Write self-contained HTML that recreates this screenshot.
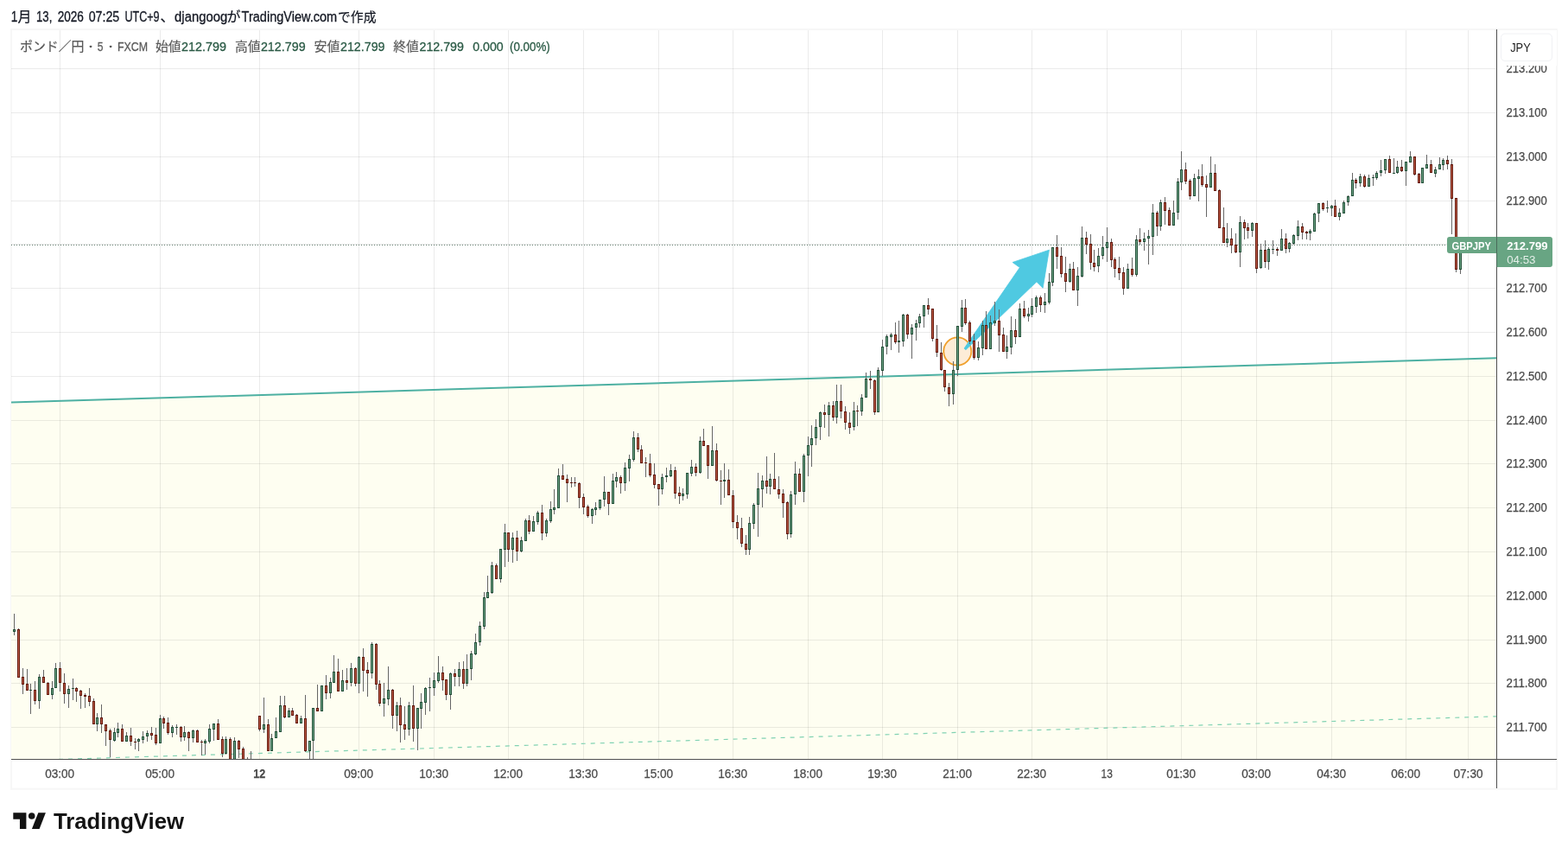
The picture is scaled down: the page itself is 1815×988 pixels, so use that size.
<!DOCTYPE html>
<html><head><meta charset="utf-8"><title>GBPJPY</title>
<style>html,body{margin:0;padding:0;background:#fff;overflow:hidden}svg{display:block;font-family:"Liberation Sans","Noto Sans CJK JP",sans-serif;will-change:transform}</style></head><body>
<svg width="1815" height="988" viewBox="0 0 1815 988">
<g>
<rect x="13" y="34" width="1789" height="878.7" fill="none" stroke="#f7f7f7" stroke-width="2.2"/>
<defs><clipPath id="pane"><rect x="13" y="35" width="1719" height="843"/></clipPath></defs>
<g clip-path="url(#pane)">
<polygon points="13,465.6 1732,414.3 1732,878 13,878" fill="#fefef1"/>
<path d="M69.5,35V878M185.5,35V878M300.5,35V878M415.5,35V878M502.5,35V878M588.5,35V878M675.5,35V878M762.5,35V878M848.5,35V878M935.5,35V878M1021.5,35V878M1108.5,35V878M1194.5,35V878M1281.5,35V878M1367.5,35V878M1454.5,35V878M1541.5,35V878M1627.5,35V878M1699.5,35V878M13,79.5H1732M13,130.5H1732M13,181.5H1732M13,232.5H1732M13,282.5H1732M13,333.5H1732M13,384.5H1732M13,435.5H1732M13,486.5H1732M13,536.5H1732M13,587.5H1732M13,638.5H1732M13,689.5H1732M13,740.5H1732M13,790.5H1732M13,841.5H1732" stroke="#000" stroke-opacity="0.08" stroke-width="1" fill="none"/>
<line x1="13" y1="880.1" x2="1732" y2="828.8" stroke="#80d2b2" stroke-width="1.2" stroke-dasharray="5 6"/>
<line x1="13" y1="465.6" x2="1732" y2="414.3" stroke="#4db0a2" stroke-width="2"/>
<line x1="13" y1="283.5" x2="1732" y2="283.5" stroke="#5f7a6b" stroke-width="1" stroke-dasharray="1 2"/>
<circle cx="1108.3" cy="406.45" r="16.05" fill="#fbd9b0" fill-opacity="0.5" stroke="#f0a12e" stroke-width="1.9"/>
<polygon points="1116.09,403.12 1180.37,309.5 1172.08,303.51 1214.4,289.2 1207.14,333.28 1199.88,326.07 1117.91,404.68" fill="#4fc9e1" stroke="#4fc9e1" stroke-width="0.8" stroke-linejoin="round"/>
<path d="M16.5,710V728M16.5,731V735M21.5,727V728M26.5,773V783M26.5,792V803M31.5,774V791M35.5,791V798M35.5,799V826M40.5,788V798M40.5,811V815M45.5,780V783M45.5,811V820M50.5,775V783M55.5,789V790M60.5,788V796M60.5,804V809M64.5,767V773M69.5,766V773M69.5,790V800M74.5,779V790M74.5,803V814M79.5,793V797M79.5,803V819M84.5,785V796M84.5,797V810M88.5,795V796M88.5,800V812M93.5,798V799M93.5,805V820M98.5,802V804M98.5,806V819M103.5,796V805M103.5,812V817M108.5,808V811M112.5,825V830M112.5,838V846M117.5,815V830M117.5,838V848M122.5,846V863M127.5,843V845M127.5,856V876M132.5,842V847M132.5,857V858M136.5,836V843M136.5,848V853M141.5,838V843M146.5,847V851M151.5,842V851M151.5,858V863M156.5,854V858M156.5,859V867M160.5,854V855M160.5,858V869M165.5,846V852M165.5,856V860M170.5,845V848M170.5,852V858M175.5,841V848M175.5,851V856M180.5,842V850M180.5,860V862M185.5,827V831M189.5,829V831M189.5,837V843M194.5,830V836M194.5,848V850M199.5,839V841M199.5,848V853M204.5,838V841M204.5,842V850M209.5,840V841M209.5,853V858M213.5,840V847M213.5,853V857M218.5,846V847M218.5,854V869M223.5,844V845M223.5,854V859M228.5,844V845M233.5,856V858M233.5,859V874M237.5,855V857M237.5,860V873M242.5,838V843M242.5,858V860M247.5,844V857M252.5,832V837M257.5,852V855M257.5,872V876M261.5,852V855M261.5,872V873M266.5,853V855M266.5,882V883M271.5,853V857M271.5,882V883M276.5,856V857M276.5,867V877M281.5,864V866M281.5,883V885M286.5,876V882M286.5,886V887M290.5,869V882M290.5,886V887M295.5,880V882M295.5,886V887M300.5,844V846M305.5,807V838M305.5,844V848M310.5,832V838M314.5,849V854M319.5,830V846M324.5,805V816M329.5,805V816M329.5,830V831M334.5,819V822M338.5,819V822M343.5,826V827M348.5,828V831M353.5,804V831M353.5,869V870M358.5,869V882M362.5,857V882M367.5,792V819M377.5,781V793M377.5,802V809M382.5,784V789M382.5,802V808M386.5,758V777M391.5,762V777M396.5,775V787M401.5,773V787M401.5,790V798M406.5,767V773M406.5,790V794M411.5,772V773M411.5,791V794M415.5,759V760M415.5,791V802M420.5,750V760M420.5,776V800M425.5,766V775M425.5,779V806M430.5,743V745M430.5,779V785M435.5,744V745M435.5,792V798M439.5,787V791M439.5,814V817M444.5,790V808M444.5,814V829M449.5,771V798M449.5,809V816M454.5,797V798M454.5,828V843M459.5,812V816M459.5,828V846M463.5,807V816M463.5,839V859M468.5,817V838M468.5,844V856M473.5,812V816M473.5,844V851M478.5,793V816M478.5,843V858M483.5,843V868M487.5,802V812M487.5,820V843M492.5,795V796M492.5,813V827M497.5,784V795M497.5,796V823M502.5,778V787M502.5,796V805M507.5,759V778M507.5,788V790M512.5,771V778M512.5,787V799M516.5,804V810M521.5,778V779M521.5,804V821M526.5,774V779M526.5,783V794M531.5,766V774M531.5,783V794M536.5,765V774M536.5,791V797M540.5,757V774M540.5,791V794M545.5,753V756M545.5,774V787M550.5,733V743M550.5,757V758M555.5,719V724M555.5,743V747M560.5,685V691M560.5,725V728M564.5,666V685M569.5,650V654M569.5,686V687M574.5,652V654M579.5,670V674M584.5,606V616M584.5,636V656M588.5,636V650M593.5,616V622M593.5,636V651M598.5,614V622M598.5,638V649M603.5,621V625M603.5,638V639M608.5,600V602M612.5,596V602M612.5,615V618M617.5,597V603M622.5,591V593M622.5,604V607M627.5,584V593M627.5,617V625M632.5,600V602M632.5,617V621M637.5,580V589M637.5,603V605M641.5,566V587M641.5,590V595M646.5,542V550M651.5,537V550M656.5,549V554M656.5,559V581M661.5,552V558M661.5,559V564M665.5,552V558M665.5,559V563M670.5,558V559M670.5,576V588M675.5,571V575M675.5,587V595M680.5,584V586M680.5,597V599M685.5,588V589M685.5,597V606M689.5,581V587M689.5,590V596M694.5,588V590M699.5,551V569M699.5,578V586M704.5,583V596M709.5,548V556M713.5,546V552M713.5,557V564M718.5,550V552M718.5,559V571M723.5,535V541M723.5,559V568M728.5,526V531M728.5,542V557M733.5,499V506M733.5,532V534M738.5,501V506M738.5,520V523M742.5,515V520M747.5,529V535M747.5,536V552M752.5,525V536M752.5,550V552M757.5,536V549M757.5,561V565M762.5,566V585M766.5,548V552M766.5,566V572M771.5,541V550M771.5,552V558M776.5,537V544M776.5,551V552M781.5,540V544M781.5,571V577M786.5,563V570M786.5,574V583M790.5,565V571M790.5,574V579M795.5,572V577M800.5,532V540M800.5,548V551M805.5,536V540M805.5,547V551M810.5,505V510M810.5,547V548M814.5,496V510M819.5,539V554M824.5,493V521M829.5,513V521M829.5,556V557M834.5,544V556M834.5,557V584M838.5,536V555M838.5,557V576M843.5,543V555M848.5,567V573M848.5,604V611M853.5,596V604M853.5,611V624M858.5,599V611M858.5,629V633M863.5,619V629M863.5,636V642M867.5,598V605M867.5,636V642M872.5,582V584M872.5,606V612M877.5,547V565M877.5,584V621M882.5,550V556M882.5,566V587M887.5,528V556M887.5,563V571M891.5,548V554M891.5,563V572M896.5,524V554M901.5,551V566M901.5,572V577M906.5,566V571M906.5,582V599M911.5,580V581M911.5,618V624M915.5,568V572M915.5,618V622M920.5,534V548M920.5,572V584M925.5,542V548M930.5,525V527M930.5,569V581M935.5,505V515M935.5,527V551M939.5,492V507M939.5,515V540M944.5,485V494M944.5,507V515M949.5,476V477M949.5,494V509M954.5,468V477M954.5,480V495M959.5,465V469M959.5,480V505M964.5,464V469M964.5,483V487M968.5,445V464M968.5,483V490M973.5,445V464M973.5,476V484M978.5,470V476M978.5,489V497M983.5,477V489M983.5,495V502M988.5,465V475M988.5,494V498M992.5,469V475M992.5,476V493M997.5,456V460M997.5,476V481M1002.5,431V438M1007.5,429V438M1007.5,440V450M1012.5,439V440M1012.5,477V480M1016.5,425V428M1021.5,393V401M1021.5,429V435M1026.5,387V389M1026.5,401V410M1031.5,385V387M1031.5,390V405M1036.5,373V387M1036.5,396V398M1040.5,371V394M1040.5,396V408M1045.5,363V364M1045.5,395V401M1050.5,363V364M1050.5,387V392M1055.5,375V379M1055.5,387V415M1060.5,370V374M1060.5,379V394M1064.5,363V366M1064.5,374V379M1069.5,366V379M1074.5,345V353M1074.5,358V364M1079.5,392V395M1084.5,376V392M1084.5,408V413M1089.5,396V408M1089.5,428V429M1093.5,448V453M1098.5,443V448M1098.5,456V470M1103.5,418V428M1103.5,456V468M1108.5,428V435M1113.5,347V356M1113.5,378V384M1117.5,346V356M1117.5,374V376M1122.5,371V373M1122.5,395V398M1127.5,386V394M1127.5,414V416M1132.5,395V402M1132.5,414V417M1137.5,371V376M1137.5,403V411M1141.5,360V376M1146.5,365V373M1151.5,349V371M1151.5,374V377M1156.5,358V371M1156.5,388V407M1161.5,379V387M1165.5,388V401M1165.5,407V415M1170.5,366V382M1170.5,402V410M1175.5,369V382M1175.5,390V398M1180.5,351V357M1185.5,348V357M1185.5,366V368M1190.5,356V363M1190.5,366V372M1194.5,345V354M1194.5,364V367M1199.5,342V344M1199.5,355V362M1204.5,342V344M1204.5,353V361M1209.5,339V349M1209.5,353V362M1214.5,316V326M1214.5,350V352M1218.5,327V331M1223.5,272V286M1223.5,297V311M1228.5,286V296M1228.5,317V321M1233.5,297V316M1233.5,326V338M1238.5,305V311M1238.5,326V327M1242.5,303V311M1247.5,309V319M1247.5,336V354M1252.5,262V275M1252.5,320V321M1257.5,268V275M1257.5,283V294M1262.5,271V282M1262.5,304V312M1266.5,289V304M1266.5,309V314M1271.5,287V296M1271.5,308V315M1276.5,273V286M1276.5,296V300M1281.5,263V280M1281.5,287V303M1286.5,276V280M1286.5,301V309M1290.5,298V300M1290.5,311V321M1295.5,297V310M1295.5,316V324M1300.5,309V315M1300.5,334V341M1305.5,305V311M1310.5,298V311M1310.5,318V320M1315.5,272V277M1315.5,318V320M1319.5,264V277M1319.5,280V283M1324.5,269V276M1324.5,280V290M1329.5,266V273M1329.5,276V306M1334.5,236V246M1334.5,274V295M1339.5,244V246M1339.5,262V273M1343.5,231V234M1343.5,262V267M1348.5,228V234M1348.5,244V260M1353.5,240V243M1358.5,232V246M1363.5,206V210M1363.5,246V254M1367.5,175V196M1367.5,211V220M1372.5,188V196M1372.5,210V213M1377.5,207V209M1377.5,227V231M1382.5,201V206M1387.5,196V204M1387.5,207V233M1391.5,190V204M1391.5,214V216M1396.5,203V213M1396.5,217V251M1401.5,181V200M1406.5,190V200M1411.5,219V220M1416.5,240V263M1420.5,258V276M1420.5,281V286M1425.5,264V276M1425.5,284V293M1430.5,270V283M1430.5,292V293M1435.5,250V257M1435.5,292V309M1440.5,254V257M1440.5,264V277M1444.5,258V263M1444.5,267V276M1449.5,257V258M1449.5,267V274M1454.5,311V316M1459.5,282V289M1459.5,310V311M1464.5,278V289M1464.5,303V310M1468.5,286V288M1468.5,303V312M1473.5,278V288M1473.5,289V294M1478.5,286V288M1478.5,290V296M1483.5,265V276M1488.5,270V276M1488.5,288V293M1492.5,280V281M1492.5,288V292M1497.5,271V272M1497.5,282V283M1502.5,255V262M1502.5,273V278M1507.5,258V262M1507.5,269V277M1512.5,267V268M1512.5,270V277M1516.5,265V267M1516.5,270V278M1521.5,246V247M1526.5,247V257M1531.5,234V235M1531.5,242V244M1536.5,232V240M1536.5,241V246M1541.5,237V238M1541.5,241V250M1545.5,231V238M1550.5,241V246M1550.5,251V255M1555.5,232V234M1560.5,226V227M1560.5,234V238M1565.5,200V208M1569.5,206V208M1569.5,212V218M1574.5,201V204M1574.5,212V216M1579.5,202V204M1579.5,216V217M1584.5,202V206M1589.5,202V205M1589.5,206V215M1593.5,198V200M1593.5,206V208M1598.5,185V197M1598.5,200V204M1603.5,197V201M1608.5,180V184M1613.5,183V200M1617.5,186V193M1617.5,200V201M1622.5,185V193M1622.5,198V199M1627.5,198V215M1632.5,175V181M1637.5,202V203M1642.5,200V201M1651.5,179V190M1656.5,185V190M1661.5,193V196M1661.5,201V205M1666.5,182V190M1670.5,183V185M1670.5,191V197M1675.5,180V185M1675.5,190V196M1680.5,184V190M1680.5,230V271M1685.5,312V315M1690.5,312V317" stroke="#666666" stroke-width="1" fill="none"/>
<path d="M15,728h3V731h-3zM34,798h3V799h-3zM44,783h3V811h-3zM59,796h3V804h-3zM63,773h3V796h-3zM78,797h3V803h-3zM83,796h3V797h-3zM111,830h3V838h-3zM131,847h3V857h-3zM135,843h3V848h-3zM145,851h3V858h-3zM159,855h3V858h-3zM164,852h3V856h-3zM169,848h3V852h-3zM184,831h3V860h-3zM198,841h3V848h-3zM203,841h3V842h-3zM212,847h3V853h-3zM222,845h3V854h-3zM236,857h3V860h-3zM241,843h3V858h-3zM246,837h3V844h-3zM260,855h3V872h-3zM270,857h3V882h-3zM289,882h3V886h-3zM304,838h3V844h-3zM313,854h3V869h-3zM318,846h3V854h-3zM323,816h3V847h-3zM333,822h3V830h-3zM347,831h3V837h-3zM357,857h3V869h-3zM361,819h3V857h-3zM371,793h3V823h-3zM381,789h3V802h-3zM385,777h3V790h-3zM395,787h3V800h-3zM405,773h3V790h-3zM414,760h3V791h-3zM429,745h3V779h-3zM443,808h3V814h-3zM448,798h3V809h-3zM458,816h3V828h-3zM472,816h3V844h-3zM482,819h3V843h-3zM486,812h3V820h-3zM491,796h3V813h-3zM496,795h3V796h-3zM501,787h3V796h-3zM506,778h3V788h-3zM520,779h3V804h-3zM530,774h3V783h-3zM539,774h3V791h-3zM544,756h3V774h-3zM549,743h3V757h-3zM554,724h3V743h-3zM559,691h3V725h-3zM563,685h3V692h-3zM568,654h3V686h-3zM578,635h3V670h-3zM583,616h3V636h-3zM592,622h3V636h-3zM602,625h3V638h-3zM607,602h3V626h-3zM616,603h3V615h-3zM621,593h3V604h-3zM631,602h3V617h-3zM636,589h3V603h-3zM640,587h3V590h-3zM645,550h3V588h-3zM684,589h3V597h-3zM688,587h3V590h-3zM693,578h3V588h-3zM698,569h3V578h-3zM708,556h3V583h-3zM712,552h3V557h-3zM722,541h3V559h-3zM727,531h3V542h-3zM732,506h3V532h-3zM765,552h3V566h-3zM770,550h3V552h-3zM775,544h3V551h-3zM789,571h3V574h-3zM794,547h3V572h-3zM799,540h3V548h-3zM809,510h3V547h-3zM823,521h3V539h-3zM837,555h3V557h-3zM866,605h3V636h-3zM871,584h3V606h-3zM876,565h3V584h-3zM881,556h3V566h-3zM890,554h3V563h-3zM914,572h3V618h-3zM919,548h3V572h-3zM929,527h3V569h-3zM934,515h3V527h-3zM938,507h3V515h-3zM943,494h3V507h-3zM948,477h3V494h-3zM958,469h3V480h-3zM967,464h3V483h-3zM987,475h3V494h-3zM996,460h3V476h-3zM1001,438h3V460h-3zM1015,428h3V477h-3zM1020,401h3V429h-3zM1025,389h3V401h-3zM1030,387h3V390h-3zM1039,394h3V396h-3zM1044,364h3V395h-3zM1054,379h3V387h-3zM1059,374h3V379h-3zM1063,366h3V374h-3zM1068,353h3V366h-3zM1102,428h3V456h-3zM1107,377h3V428h-3zM1112,356h3V378h-3zM1131,402h3V414h-3zM1136,376h3V403h-3zM1145,373h3V404h-3zM1150,371h3V374h-3zM1164,401h3V407h-3zM1169,382h3V402h-3zM1179,357h3V390h-3zM1189,363h3V366h-3zM1193,354h3V364h-3zM1198,344h3V355h-3zM1208,349h3V353h-3zM1213,326h3V350h-3zM1217,286h3V327h-3zM1237,311h3V326h-3zM1246,319h3V336h-3zM1251,275h3V320h-3zM1270,296h3V308h-3zM1275,286h3V296h-3zM1280,280h3V287h-3zM1304,311h3V334h-3zM1314,277h3V318h-3zM1323,276h3V280h-3zM1328,273h3V276h-3zM1333,246h3V274h-3zM1342,234h3V262h-3zM1357,246h3V261h-3zM1362,210h3V246h-3zM1366,196h3V211h-3zM1381,206h3V227h-3zM1386,204h3V207h-3zM1400,200h3V217h-3zM1419,276h3V281h-3zM1434,257h3V292h-3zM1448,258h3V267h-3zM1458,289h3V310h-3zM1467,288h3V303h-3zM1472,288h3V289h-3zM1482,276h3V290h-3zM1491,281h3V288h-3zM1496,272h3V282h-3zM1501,262h3V273h-3zM1515,267h3V270h-3zM1520,247h3V268h-3zM1525,235h3V247h-3zM1535,240h3V241h-3zM1540,238h3V241h-3zM1549,246h3V251h-3zM1554,234h3V247h-3zM1559,227h3V234h-3zM1564,208h3V227h-3zM1573,204h3V212h-3zM1583,206h3V216h-3zM1588,205h3V206h-3zM1592,200h3V206h-3zM1597,197h3V200h-3zM1602,184h3V197h-3zM1612,200h3V201h-3zM1616,193h3V200h-3zM1626,187h3V198h-3zM1631,181h3V188h-3zM1645,194h3V212h-3zM1650,190h3V195h-3zM1660,196h3V201h-3zM1665,190h3V196h-3zM1669,185h3V191h-3zM1689,284h3V312h-3z" fill="#24503a"/>
<path d="M16,729h1V730h-1zM45,784h1V810h-1zM60,797h1V803h-1zM64,774h1V795h-1zM79,798h1V802h-1zM112,831h1V837h-1zM132,848h1V856h-1zM136,844h1V847h-1zM146,852h1V857h-1zM160,856h1V857h-1zM165,853h1V855h-1zM170,849h1V851h-1zM185,832h1V859h-1zM199,842h1V847h-1zM213,848h1V852h-1zM223,846h1V853h-1zM237,858h1V859h-1zM242,844h1V857h-1zM247,838h1V843h-1zM261,856h1V871h-1zM271,858h1V881h-1zM290,883h1V885h-1zM305,839h1V843h-1zM314,855h1V868h-1zM319,847h1V853h-1zM324,817h1V846h-1zM334,823h1V829h-1zM348,832h1V836h-1zM358,858h1V868h-1zM362,820h1V856h-1zM372,794h1V822h-1zM382,790h1V801h-1zM386,778h1V789h-1zM396,788h1V799h-1zM406,774h1V789h-1zM415,761h1V790h-1zM430,746h1V778h-1zM444,809h1V813h-1zM449,799h1V808h-1zM459,817h1V827h-1zM473,817h1V843h-1zM483,820h1V842h-1zM487,813h1V819h-1zM492,797h1V812h-1zM502,788h1V795h-1zM507,779h1V787h-1zM521,780h1V803h-1zM531,775h1V782h-1zM540,775h1V790h-1zM545,757h1V773h-1zM550,744h1V756h-1zM555,725h1V742h-1zM560,692h1V724h-1zM564,686h1V691h-1zM569,655h1V685h-1zM579,636h1V669h-1zM584,617h1V635h-1zM593,623h1V635h-1zM603,626h1V637h-1zM608,603h1V625h-1zM617,604h1V614h-1zM622,594h1V603h-1zM632,603h1V616h-1zM637,590h1V602h-1zM641,588h1V589h-1zM646,551h1V587h-1zM685,590h1V596h-1zM689,588h1V589h-1zM694,579h1V587h-1zM699,570h1V577h-1zM709,557h1V582h-1zM713,553h1V556h-1zM723,542h1V558h-1zM728,532h1V541h-1zM733,507h1V531h-1zM766,553h1V565h-1zM776,545h1V550h-1zM790,572h1V573h-1zM795,548h1V571h-1zM800,541h1V547h-1zM810,511h1V546h-1zM824,522h1V538h-1zM867,606h1V635h-1zM872,585h1V605h-1zM877,566h1V583h-1zM882,557h1V565h-1zM891,555h1V562h-1zM915,573h1V617h-1zM920,549h1V571h-1zM930,528h1V568h-1zM935,516h1V526h-1zM939,508h1V514h-1zM944,495h1V506h-1zM949,478h1V493h-1zM959,470h1V479h-1zM968,465h1V482h-1zM988,476h1V493h-1zM997,461h1V475h-1zM1002,439h1V459h-1zM1016,429h1V476h-1zM1021,402h1V428h-1zM1026,390h1V400h-1zM1031,388h1V389h-1zM1045,365h1V394h-1zM1055,380h1V386h-1zM1060,375h1V378h-1zM1064,367h1V373h-1zM1069,354h1V365h-1zM1103,429h1V455h-1zM1108,378h1V427h-1zM1113,357h1V377h-1zM1132,403h1V413h-1zM1137,377h1V402h-1zM1146,374h1V403h-1zM1151,372h1V373h-1zM1165,402h1V406h-1zM1170,383h1V401h-1zM1180,358h1V389h-1zM1190,364h1V365h-1zM1194,355h1V363h-1zM1199,345h1V354h-1zM1209,350h1V352h-1zM1214,327h1V349h-1zM1218,287h1V326h-1zM1238,312h1V325h-1zM1247,320h1V335h-1zM1252,276h1V319h-1zM1271,297h1V307h-1zM1276,287h1V295h-1zM1281,281h1V286h-1zM1305,312h1V333h-1zM1315,278h1V317h-1zM1324,277h1V279h-1zM1329,274h1V275h-1zM1334,247h1V273h-1zM1343,235h1V261h-1zM1358,247h1V260h-1zM1363,211h1V245h-1zM1367,197h1V210h-1zM1382,207h1V226h-1zM1387,205h1V206h-1zM1401,201h1V216h-1zM1420,277h1V280h-1zM1435,258h1V291h-1zM1449,259h1V266h-1zM1459,290h1V309h-1zM1468,289h1V302h-1zM1483,277h1V289h-1zM1492,282h1V287h-1zM1497,273h1V281h-1zM1502,263h1V272h-1zM1516,268h1V269h-1zM1521,248h1V267h-1zM1526,236h1V246h-1zM1541,239h1V240h-1zM1550,247h1V250h-1zM1555,235h1V246h-1zM1560,228h1V233h-1zM1565,209h1V226h-1zM1574,205h1V211h-1zM1584,207h1V215h-1zM1593,201h1V205h-1zM1598,198h1V199h-1zM1603,185h1V196h-1zM1617,194h1V199h-1zM1627,188h1V197h-1zM1632,182h1V187h-1zM1646,195h1V211h-1zM1651,191h1V194h-1zM1661,197h1V200h-1zM1666,191h1V195h-1zM1670,186h1V190h-1zM1690,285h1V311h-1z" fill="#6ea586"/>
<path d="M20,728h3V784h-3zM25,783h3V792h-3zM30,791h3V799h-3zM39,798h3V811h-3zM49,783h3V790h-3zM54,790h3V804h-3zM68,773h3V790h-3zM73,790h3V803h-3zM87,796h3V800h-3zM92,799h3V805h-3zM97,804h3V806h-3zM102,805h3V812h-3zM107,811h3V838h-3zM116,830h3V838h-3zM121,838h3V846h-3zM126,845h3V856h-3zM140,843h3V858h-3zM150,851h3V858h-3zM155,858h3V859h-3zM174,848h3V851h-3zM179,850h3V860h-3zM188,831h3V837h-3zM193,836h3V848h-3zM208,841h3V853h-3zM217,847h3V854h-3zM227,845h3V859h-3zM232,858h3V859h-3zM251,837h3V856h-3zM256,855h3V872h-3zM265,855h3V882h-3zM275,857h3V867h-3zM280,866h3V883h-3zM285,882h3V886h-3zM294,882h3V886h-3zM299,828h3V844h-3zM309,838h3V869h-3zM328,816h3V830h-3zM337,822h3V828h-3zM342,827h3V837h-3zM352,831h3V869h-3zM366,819h3V823h-3zM376,793h3V802h-3zM390,777h3V800h-3zM400,787h3V790h-3zM410,773h3V791h-3zM419,760h3V776h-3zM424,775h3V779h-3zM434,745h3V792h-3zM438,791h3V814h-3zM453,798h3V828h-3zM462,816h3V839h-3zM467,838h3V844h-3zM477,816h3V843h-3zM511,778h3V787h-3zM515,786h3V804h-3zM525,779h3V783h-3zM535,774h3V791h-3zM573,654h3V670h-3zM587,616h3V636h-3zM597,622h3V638h-3zM611,602h3V615h-3zM626,593h3V617h-3zM650,550h3V555h-3zM655,554h3V559h-3zM660,558h3V559h-3zM664,558h3V559h-3zM669,559h3V576h-3zM674,575h3V587h-3zM679,586h3V597h-3zM703,569h3V583h-3zM717,552h3V559h-3zM737,506h3V520h-3zM741,520h3V536h-3zM746,535h3V536h-3zM751,536h3V550h-3zM756,549h3V561h-3zM761,560h3V566h-3zM780,544h3V571h-3zM785,570h3V574h-3zM804,540h3V547h-3zM813,510h3V516h-3zM818,515h3V539h-3zM828,521h3V556h-3zM833,556h3V557h-3zM842,555h3V573h-3zM847,573h3V604h-3zM852,604h3V611h-3zM857,611h3V629h-3zM862,629h3V636h-3zM886,556h3V563h-3zM895,554h3V566h-3zM900,566h3V572h-3zM905,571h3V582h-3zM910,581h3V618h-3zM924,548h3V569h-3zM953,477h3V480h-3zM963,469h3V483h-3zM972,464h3V476h-3zM977,476h3V489h-3zM982,489h3V495h-3zM991,475h3V476h-3zM1006,438h3V440h-3zM1011,440h3V477h-3zM1035,387h3V396h-3zM1049,364h3V387h-3zM1073,353h3V358h-3zM1078,357h3V392h-3zM1083,392h3V408h-3zM1088,408h3V428h-3zM1092,428h3V448h-3zM1097,448h3V456h-3zM1116,356h3V374h-3zM1121,373h3V395h-3zM1126,394h3V414h-3zM1140,376h3V404h-3zM1155,371h3V388h-3zM1160,387h3V407h-3zM1174,382h3V390h-3zM1184,357h3V366h-3zM1203,344h3V353h-3zM1222,286h3V297h-3zM1227,296h3V317h-3zM1232,316h3V326h-3zM1241,311h3V336h-3zM1256,275h3V283h-3zM1261,282h3V304h-3zM1265,304h3V309h-3zM1285,280h3V301h-3zM1289,300h3V311h-3zM1294,310h3V316h-3zM1299,315h3V334h-3zM1309,311h3V318h-3zM1318,277h3V280h-3zM1338,246h3V262h-3zM1347,234h3V244h-3zM1352,243h3V261h-3zM1371,196h3V210h-3zM1376,209h3V227h-3zM1390,204h3V214h-3zM1395,213h3V217h-3zM1405,200h3V221h-3zM1410,220h3V264h-3zM1415,263h3V281h-3zM1424,276h3V284h-3zM1429,283h3V292h-3zM1439,257h3V264h-3zM1443,263h3V267h-3zM1453,258h3V311h-3zM1463,289h3V303h-3zM1477,288h3V290h-3zM1487,276h3V288h-3zM1506,262h3V269h-3zM1511,268h3V270h-3zM1530,235h3V242h-3zM1544,238h3V251h-3zM1568,208h3V212h-3zM1578,204h3V216h-3zM1607,184h3V200h-3zM1621,193h3V198h-3zM1636,181h3V202h-3zM1641,201h3V212h-3zM1655,190h3V200h-3zM1674,185h3V190h-3zM1679,190h3V230h-3zM1684,229h3V312h-3z" fill="#621a0d"/>
<path d="M21,729h1V783h-1zM26,784h1V791h-1zM31,792h1V798h-1zM40,799h1V810h-1zM50,784h1V789h-1zM55,791h1V803h-1zM69,774h1V789h-1zM74,791h1V802h-1zM88,797h1V799h-1zM93,800h1V804h-1zM103,806h1V811h-1zM108,812h1V837h-1zM117,831h1V837h-1zM122,839h1V845h-1zM127,846h1V855h-1zM141,844h1V857h-1zM151,852h1V857h-1zM175,849h1V850h-1zM180,851h1V859h-1zM189,832h1V836h-1zM194,837h1V847h-1zM209,842h1V852h-1zM218,848h1V853h-1zM228,846h1V858h-1zM252,838h1V855h-1zM257,856h1V871h-1zM266,856h1V881h-1zM276,858h1V866h-1zM281,867h1V882h-1zM286,883h1V885h-1zM295,883h1V885h-1zM300,829h1V843h-1zM310,839h1V868h-1zM329,817h1V829h-1zM338,823h1V827h-1zM343,828h1V836h-1zM353,832h1V868h-1zM367,820h1V822h-1zM377,794h1V801h-1zM391,778h1V799h-1zM401,788h1V789h-1zM411,774h1V790h-1zM420,761h1V775h-1zM425,776h1V778h-1zM435,746h1V791h-1zM439,792h1V813h-1zM454,799h1V827h-1zM463,817h1V838h-1zM468,839h1V843h-1zM478,817h1V842h-1zM512,779h1V786h-1zM516,787h1V803h-1zM526,780h1V782h-1zM536,775h1V790h-1zM574,655h1V669h-1zM588,617h1V635h-1zM598,623h1V637h-1zM612,603h1V614h-1zM627,594h1V616h-1zM651,551h1V554h-1zM656,555h1V558h-1zM670,560h1V575h-1zM675,576h1V586h-1zM680,587h1V596h-1zM704,570h1V582h-1zM718,553h1V558h-1zM738,507h1V519h-1zM742,521h1V535h-1zM752,537h1V549h-1zM757,550h1V560h-1zM762,561h1V565h-1zM781,545h1V570h-1zM786,571h1V573h-1zM805,541h1V546h-1zM814,511h1V515h-1zM819,516h1V538h-1zM829,522h1V555h-1zM843,556h1V572h-1zM848,574h1V603h-1zM853,605h1V610h-1zM858,612h1V628h-1zM863,630h1V635h-1zM887,557h1V562h-1zM896,555h1V565h-1zM901,567h1V571h-1zM906,572h1V581h-1zM911,582h1V617h-1zM925,549h1V568h-1zM954,478h1V479h-1zM964,470h1V482h-1zM973,465h1V475h-1zM978,477h1V488h-1zM983,490h1V494h-1zM1012,441h1V476h-1zM1036,388h1V395h-1zM1050,365h1V386h-1zM1074,354h1V357h-1zM1079,358h1V391h-1zM1084,393h1V407h-1zM1089,409h1V427h-1zM1093,429h1V447h-1zM1098,449h1V455h-1zM1117,357h1V373h-1zM1122,374h1V394h-1zM1127,395h1V413h-1zM1141,377h1V403h-1zM1156,372h1V387h-1zM1161,388h1V406h-1zM1175,383h1V389h-1zM1185,358h1V365h-1zM1204,345h1V352h-1zM1223,287h1V296h-1zM1228,297h1V316h-1zM1233,317h1V325h-1zM1242,312h1V335h-1zM1257,276h1V282h-1zM1262,283h1V303h-1zM1266,305h1V308h-1zM1286,281h1V300h-1zM1290,301h1V310h-1zM1295,311h1V315h-1zM1300,316h1V333h-1zM1310,312h1V317h-1zM1319,278h1V279h-1zM1339,247h1V261h-1zM1348,235h1V243h-1zM1353,244h1V260h-1zM1372,197h1V209h-1zM1377,210h1V226h-1zM1391,205h1V213h-1zM1396,214h1V216h-1zM1406,201h1V220h-1zM1411,221h1V263h-1zM1416,264h1V280h-1zM1425,277h1V283h-1zM1430,284h1V291h-1zM1440,258h1V263h-1zM1444,264h1V266h-1zM1454,259h1V310h-1zM1464,290h1V302h-1zM1488,277h1V287h-1zM1507,263h1V268h-1zM1531,236h1V241h-1zM1545,239h1V250h-1zM1569,209h1V211h-1zM1579,205h1V215h-1zM1608,185h1V199h-1zM1622,194h1V197h-1zM1637,182h1V201h-1zM1642,202h1V211h-1zM1656,191h1V199h-1zM1675,186h1V189h-1zM1680,191h1V229h-1zM1685,230h1V311h-1z" fill="#c05c4a"/>
</g>
<path d="M1732.5,34V912M13,878.5H1802" stroke="#4f4f4f" stroke-width="1" fill="none"/>
<text x="1743.6" y="845.8" font-size="14" fill="#4a4a4a" stroke="#4a4a4a" stroke-width="0.25" textLength="47.2" lengthAdjust="spacingAndGlyphs">211.700</text>
<text x="1743.6" y="794.8" font-size="14" fill="#4a4a4a" stroke="#4a4a4a" stroke-width="0.25" textLength="47.2" lengthAdjust="spacingAndGlyphs">211.800</text>
<text x="1743.6" y="744.8" font-size="14" fill="#4a4a4a" stroke="#4a4a4a" stroke-width="0.25" textLength="47.2" lengthAdjust="spacingAndGlyphs">211.900</text>
<text x="1743.6" y="693.8" font-size="14" fill="#4a4a4a" stroke="#4a4a4a" stroke-width="0.25" textLength="47.2" lengthAdjust="spacingAndGlyphs">212.000</text>
<text x="1743.6" y="642.8" font-size="14" fill="#4a4a4a" stroke="#4a4a4a" stroke-width="0.25" textLength="47.2" lengthAdjust="spacingAndGlyphs">212.100</text>
<text x="1743.6" y="591.8" font-size="14" fill="#4a4a4a" stroke="#4a4a4a" stroke-width="0.25" textLength="47.2" lengthAdjust="spacingAndGlyphs">212.200</text>
<text x="1743.6" y="540.8" font-size="14" fill="#4a4a4a" stroke="#4a4a4a" stroke-width="0.25" textLength="47.2" lengthAdjust="spacingAndGlyphs">212.300</text>
<text x="1743.6" y="490.8" font-size="14" fill="#4a4a4a" stroke="#4a4a4a" stroke-width="0.25" textLength="47.2" lengthAdjust="spacingAndGlyphs">212.400</text>
<text x="1743.6" y="439.8" font-size="14" fill="#4a4a4a" stroke="#4a4a4a" stroke-width="0.25" textLength="47.2" lengthAdjust="spacingAndGlyphs">212.500</text>
<text x="1743.6" y="388.8" font-size="14" fill="#4a4a4a" stroke="#4a4a4a" stroke-width="0.25" textLength="47.2" lengthAdjust="spacingAndGlyphs">212.600</text>
<text x="1743.6" y="337.8" font-size="14" fill="#4a4a4a" stroke="#4a4a4a" stroke-width="0.25" textLength="47.2" lengthAdjust="spacingAndGlyphs">212.700</text>
<text x="1743.6" y="236.8" font-size="14" fill="#4a4a4a" stroke="#4a4a4a" stroke-width="0.25" textLength="47.2" lengthAdjust="spacingAndGlyphs">212.900</text>
<text x="1743.6" y="185.8" font-size="14" fill="#4a4a4a" stroke="#4a4a4a" stroke-width="0.25" textLength="47.2" lengthAdjust="spacingAndGlyphs">213.000</text>
<text x="1743.6" y="134.8" font-size="14" fill="#4a4a4a" stroke="#4a4a4a" stroke-width="0.25" textLength="47.2" lengthAdjust="spacingAndGlyphs">213.100</text>
<text x="1743.6" y="83.8" font-size="14" fill="#4a4a4a" stroke="#4a4a4a" stroke-width="0.25" textLength="47.2" lengthAdjust="spacingAndGlyphs">213.200</text>
<text x="52.2" y="899.9" font-size="14.2" fill="#4a4a4a" stroke="#4a4a4a" stroke-width="0.25" textLength="34.0" lengthAdjust="spacingAndGlyphs">03:00</text>
<text x="168.2" y="899.9" font-size="14.2" fill="#4a4a4a" stroke="#4a4a4a" stroke-width="0.25" textLength="34.0" lengthAdjust="spacingAndGlyphs">05:00</text>
<text x="293.2" y="899.9" font-size="14.2" fill="#4a4a4a" stroke="#4a4a4a" stroke-width="0.25" textLength="14.0" lengthAdjust="spacingAndGlyphs" font-weight="bold">12</text>
<text x="398.2" y="899.9" font-size="14.2" fill="#4a4a4a" stroke="#4a4a4a" stroke-width="0.25" textLength="34.0" lengthAdjust="spacingAndGlyphs">09:00</text>
<text x="485.2" y="899.9" font-size="14.2" fill="#4a4a4a" stroke="#4a4a4a" stroke-width="0.25" textLength="34.0" lengthAdjust="spacingAndGlyphs">10:30</text>
<text x="571.2" y="899.9" font-size="14.2" fill="#4a4a4a" stroke="#4a4a4a" stroke-width="0.25" textLength="34.0" lengthAdjust="spacingAndGlyphs">12:00</text>
<text x="658.2" y="899.9" font-size="14.2" fill="#4a4a4a" stroke="#4a4a4a" stroke-width="0.25" textLength="34.0" lengthAdjust="spacingAndGlyphs">13:30</text>
<text x="745.2" y="899.9" font-size="14.2" fill="#4a4a4a" stroke="#4a4a4a" stroke-width="0.25" textLength="34.0" lengthAdjust="spacingAndGlyphs">15:00</text>
<text x="831.2" y="899.9" font-size="14.2" fill="#4a4a4a" stroke="#4a4a4a" stroke-width="0.25" textLength="34.0" lengthAdjust="spacingAndGlyphs">16:30</text>
<text x="918.2" y="899.9" font-size="14.2" fill="#4a4a4a" stroke="#4a4a4a" stroke-width="0.25" textLength="34.0" lengthAdjust="spacingAndGlyphs">18:00</text>
<text x="1004.2" y="899.9" font-size="14.2" fill="#4a4a4a" stroke="#4a4a4a" stroke-width="0.25" textLength="34.0" lengthAdjust="spacingAndGlyphs">19:30</text>
<text x="1091.2" y="899.9" font-size="14.2" fill="#4a4a4a" stroke="#4a4a4a" stroke-width="0.25" textLength="34.0" lengthAdjust="spacingAndGlyphs">21:00</text>
<text x="1177.2" y="899.9" font-size="14.2" fill="#4a4a4a" stroke="#4a4a4a" stroke-width="0.25" textLength="34.0" lengthAdjust="spacingAndGlyphs">22:30</text>
<text x="1274.55" y="899.9" font-size="14.2" fill="#4a4a4a" stroke="#4a4a4a" stroke-width="0.25" textLength="13.3" lengthAdjust="spacingAndGlyphs">13</text>
<text x="1350.2" y="899.9" font-size="14.2" fill="#4a4a4a" stroke="#4a4a4a" stroke-width="0.25" textLength="34.0" lengthAdjust="spacingAndGlyphs">01:30</text>
<text x="1437.2" y="899.9" font-size="14.2" fill="#4a4a4a" stroke="#4a4a4a" stroke-width="0.25" textLength="34.0" lengthAdjust="spacingAndGlyphs">03:00</text>
<text x="1524.2" y="899.9" font-size="14.2" fill="#4a4a4a" stroke="#4a4a4a" stroke-width="0.25" textLength="34.0" lengthAdjust="spacingAndGlyphs">04:30</text>
<text x="1610.2" y="899.9" font-size="14.2" fill="#4a4a4a" stroke="#4a4a4a" stroke-width="0.25" textLength="34.0" lengthAdjust="spacingAndGlyphs">06:00</text>
<text x="1682.5" y="899.9" font-size="14.2" fill="#4a4a4a" stroke="#4a4a4a" stroke-width="0.25" textLength="34" lengthAdjust="spacingAndGlyphs">07:30</text>
<rect x="1733" y="35" width="69" height="41.2" fill="#fff"/>
<rect x="1737.5" y="39" width="59" height="31.5" rx="4.5" fill="#fff" stroke="#f0f1f4" stroke-width="1"/>
<text x="1748.2" y="59.9" font-size="14.8" fill="#1c1c1c" textLength="23.6" lengthAdjust="spacingAndGlyphs">JPY</text>
<path d="M1678,274h54v19h-54a3,3 0 0 1 -3,-3v-13a3,3 0 0 1 3,-3z" fill="#68a583"/>
<path d="M1733,274h61a3,3 0 0 1 3,3v29a3,3 0 0 1 -3,3h-61z" fill="#68a583"/>
<path d="M1732.5,274V309" stroke="#4a6b5a" stroke-width="1"/>
<text x="1680.5" y="288.7" font-size="12.5" font-weight="bold" fill="#fff" textLength="45.5" lengthAdjust="spacingAndGlyphs">GBPJPY</text>
<text x="1744.2" y="288.7" font-size="13" font-weight="bold" fill="#fff" textLength="47.4" lengthAdjust="spacingAndGlyphs">212.799</text>
<text x="1744.2" y="304.6" font-size="13" fill="#fff" fill-opacity="0.82" textLength="33.3" lengthAdjust="spacingAndGlyphs">04:53</text>
<text x="12.7" y="24.9" font-size="16" fill="#131722" stroke="#131722" stroke-width="0.3" textLength="7.6" lengthAdjust="spacingAndGlyphs">1</text>
<text x="20.6" y="24.9" font-size="16" font-family="'Liberation Sans','Noto Sans CJK JP',sans-serif" fill="#131722" stroke="#131722" stroke-width="0.2">月</text>
<text x="42" y="24.9" font-size="16" fill="#131722" stroke="#131722" stroke-width="0.3" textLength="18.3" lengthAdjust="spacingAndGlyphs">13,</text>
<text x="66.7" y="24.9" font-size="16" fill="#131722" stroke="#131722" stroke-width="0.3" textLength="30.2" lengthAdjust="spacingAndGlyphs">2026</text>
<text x="102.7" y="24.9" font-size="16" fill="#131722" stroke="#131722" stroke-width="0.3" textLength="35.6" lengthAdjust="spacingAndGlyphs">07:25</text>
<text x="144.4" y="24.9" font-size="16" fill="#131722" stroke="#131722" stroke-width="0.3" textLength="40.2" lengthAdjust="spacingAndGlyphs">UTC+9</text>
<text x="185.4" y="24.7" font-size="16.5" font-family="'Liberation Sans','Noto Sans CJK JP',sans-serif" fill="#131722" stroke="#131722" stroke-width="0.2">、</text>
<text x="202.1" y="24.9" font-size="16" fill="#131722" stroke="#131722" stroke-width="0.3" textLength="61.1" lengthAdjust="spacingAndGlyphs">djangoog</text>
<text x="262.6" y="25.2" font-size="16" font-family="'Liberation Sans','Noto Sans CJK JP',sans-serif" fill="#131722" stroke="#131722" stroke-width="0.2">が</text>
<text x="279.6" y="24.9" font-size="16" fill="#131722" stroke="#131722" stroke-width="0.3" textLength="110.6" lengthAdjust="spacingAndGlyphs">TradingView.com</text>
<text x="391" y="25" font-size="15" font-family="'Liberation Sans','Noto Sans CJK JP',sans-serif" fill="#131722" stroke="#131722" stroke-width="0.2" textLength="44.5" lengthAdjust="spacingAndGlyphs">で作成</text>
<text x="23" y="58.9" font-size="15" font-family="'Liberation Sans','Noto Sans CJK JP',sans-serif" fill="#5a5a5a" stroke="#5a5a5a" stroke-width="0.2" textLength="74.5" lengthAdjust="spacingAndGlyphs">ポンド／円</text>
<rect x="103.8" y="52.7" width="2.4" height="2.4" rx="0.6" fill="#5a5a5a"/>
<text x="112.8" y="59.1" font-size="15.4" fill="#5a5a5a" stroke="#5a5a5a" stroke-width="0.3" textLength="6.7" lengthAdjust="spacingAndGlyphs">5</text>
<rect x="126.9" y="52.7" width="2.4" height="2.4" rx="0.6" fill="#5a5a5a"/>
<text x="135.9" y="59.1" font-size="15.4" fill="#5a5a5a" stroke="#5a5a5a" stroke-width="0.3" textLength="35.1" lengthAdjust="spacingAndGlyphs">FXCM</text>
<text x="180" y="58.8" font-size="15" font-family="'Liberation Sans','Noto Sans CJK JP',sans-serif" fill="#5a5a5a" stroke="#5a5a5a" stroke-width="0.2" textLength="29.6" lengthAdjust="spacingAndGlyphs">始値</text>
<text x="210.1" y="59.1" font-size="15.4" fill="#2a5a45" stroke="#2a5a45" stroke-width="0.3" textLength="51.9" lengthAdjust="spacingAndGlyphs">212.799</text>
<text x="272" y="58.8" font-size="15" font-family="'Liberation Sans','Noto Sans CJK JP',sans-serif" fill="#5a5a5a" stroke="#5a5a5a" stroke-width="0.2" textLength="29.6" lengthAdjust="spacingAndGlyphs">高値</text>
<text x="301.9" y="59.1" font-size="15.4" fill="#2a5a45" stroke="#2a5a45" stroke-width="0.3" textLength="51.7" lengthAdjust="spacingAndGlyphs">212.799</text>
<text x="363.6" y="58.8" font-size="15" font-family="'Liberation Sans','Noto Sans CJK JP',sans-serif" fill="#5a5a5a" stroke="#5a5a5a" stroke-width="0.2" textLength="29.8" lengthAdjust="spacingAndGlyphs">安値</text>
<text x="394" y="59.1" font-size="15.4" fill="#2a5a45" stroke="#2a5a45" stroke-width="0.3" textLength="51.5" lengthAdjust="spacingAndGlyphs">212.799</text>
<text x="455.3" y="58.8" font-size="15" font-family="'Liberation Sans','Noto Sans CJK JP',sans-serif" fill="#5a5a5a" stroke="#5a5a5a" stroke-width="0.2" textLength="29.4" lengthAdjust="spacingAndGlyphs">終値</text>
<text x="485.5" y="59.1" font-size="15.4" fill="#2a5a45" stroke="#2a5a45" stroke-width="0.3" textLength="51.4" lengthAdjust="spacingAndGlyphs">212.799</text>
<text x="547.3" y="59.1" font-size="15.4" fill="#2a5a45" stroke="#2a5a45" stroke-width="0.3" textLength="35.4" lengthAdjust="spacingAndGlyphs">0.000</text>
<text x="590" y="59.1" font-size="15.4" fill="#2a5a45" stroke="#2a5a45" stroke-width="0.3" textLength="46.7" lengthAdjust="spacingAndGlyphs">(0.00%)</text>
<g fill="#131313">
<path d="M15.3,940.3H30.4V958.9H22.95V947.8H15.3z"/>
<circle cx="36.7" cy="944" r="3.8"/>
<path d="M44.3,940.3H52.9L45.6,958.9H36.9z"/>
<text x="62" y="959.1" font-size="26" font-weight="bold" font-family="'Liberation Sans',sans-serif" textLength="151" lengthAdjust="spacingAndGlyphs">TradingView</text>
</g>
</g>
</svg></body></html>
